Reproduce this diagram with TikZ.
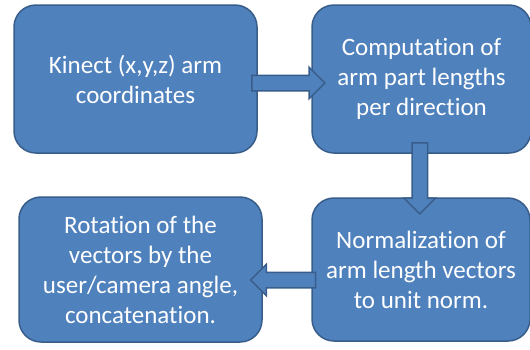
\documentclass[tikz,border=0pt]{standalone}
\usepackage{fontspec}
\setmainfont{Carlito}[Ligatures={CommonOff}]
\usetikzlibrary{shapes.arrows,calc}
\definecolor{boxfill}{HTML}{4F81BD}
\definecolor{boxline}{HTML}{385D8A}
\begin{document}
\begin{tikzpicture}[x=1pt,y=-1pt,
  stage/.style={draw=boxline, fill=boxfill, line width=1.5pt, rounded corners=22pt,
    text=white, align=center, font=\fontsize{25}{30}\selectfont, inner sep=0pt},
  barrow/.style={single arrow, draw=boxline, fill=boxfill, line width=1.5pt,
    inner sep=7pt, single arrow head extend=8pt}
]
\useasboundingbox (0,0) rectangle (530,349);
\node[stage, minimum width=243pt, minimum height=148pt] (kin) at (135.5,79)
  {Kinect (x,y,z) arm\\coordinates};
\node[stage, minimum width=219pt, minimum height=148pt] (comp) at (421.5,79)
  {Computation of\\arm part lengths\\per direction};
\node[stage, minimum width=243pt, minimum height=145pt] (rot) at (140.5,269.5)
  {Rotation of the\\vectors by the\\user/camera angle,\\concatenation.};
\node[stage, minimum width=218pt, minimum height=143pt] (norm) at (421,269.5)
  {Normalization of\\arm length vectors\\to unit norm.};
\node[barrow, minimum height=73pt] (a1) at ($(kin.east)!0.5!(comp.west)+(0,4)$) {};
\node[barrow, minimum height=71pt, shape border rotate=270] (a2)
  at ($(comp.south)!0.5!(norm.north)+(-1.5,-1)$) {};
\node[barrow, minimum height=65pt, shape border rotate=180] (a3)
  at ($(norm.west)!0.5!(rot.east)+(0,10.5)$) {};
\end{tikzpicture}
\end{document}
